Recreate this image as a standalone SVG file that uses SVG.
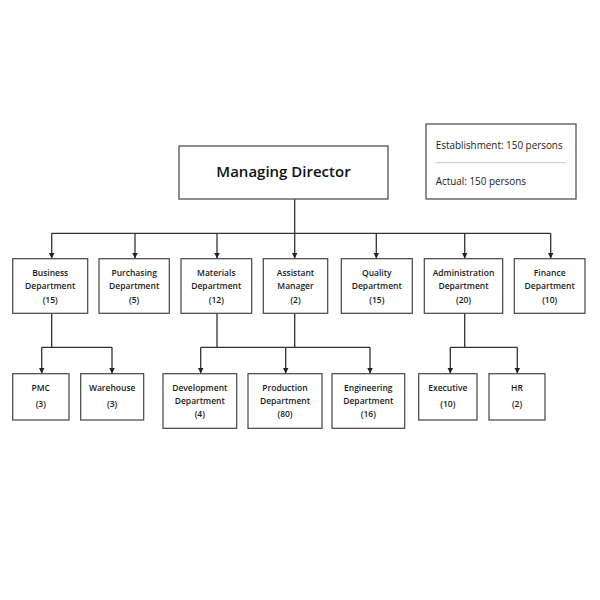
<svg xmlns="http://www.w3.org/2000/svg" width="600" height="600" viewBox="0 0 600 600">
<style>
.box{fill:#fff;stroke:#444;stroke-width:1.2}
.lbl{font-family:"Open Sans","Noto Sans",sans-serif;font-size:8.5px;font-weight:600;fill:#1a1a1a;text-anchor:middle}
.title{font-family:"Open Sans","Noto Sans",sans-serif;font-size:15px;font-weight:600;fill:#111;text-anchor:middle}
.info{font-family:"Open Sans","Noto Sans",sans-serif;font-size:9.9px;fill:#1a1a1a}
.ln{fill:none;stroke:#333;stroke-width:1.3}
.arr{marker-end:url(#ah)}
</style>
<defs>
<marker id="ah" viewBox="0 0 6 6" refX="6" refY="3" markerWidth="6" markerHeight="6" markerUnits="userSpaceOnUse" orient="auto">
<path d="M0,0 L6,3 L0,6 Z" fill="#222"/>
</marker>
</defs>
<rect width="600" height="600" fill="#fff"/>
<g id="connectors">
<path class="ln" d="M294.7,199 V233.3 M51.7,233.3 H550.7"/>
<path class="ln arr" d="M51.7,233.3 V258.5"/>
<path class="ln arr" d="M135,233.3 V258.5"/>
<path class="ln arr" d="M217,233.3 V258.5"/>
<path class="ln arr" d="M294.7,233.3 V258.5"/>
<path class="ln arr" d="M376.3,233.3 V258.5"/>
<path class="ln arr" d="M464.7,233.3 V258.5"/>
<path class="ln arr" d="M550.7,233.3 V258.5"/>
<path class="ln" d="M51.7,313.3 V347.3 M41.7,347.3 H112"/>
<path class="ln arr" d="M41.7,347.3 V373.5"/>
<path class="ln arr" d="M112,347.3 V373.5"/>
<path class="ln" d="M217,313.3 V347.3 M294.7,313.3 V347.3 M200.7,347.3 H370"/>
<path class="ln arr" d="M200.7,347.3 V373.5"/>
<path class="ln arr" d="M285.7,347.3 V373.5"/>
<path class="ln arr" d="M370,347.3 V373.5"/>
<path class="ln" d="M464.7,313.3 V347.3 M450.3,347.3 H517.3"/>
<path class="ln arr" d="M450.3,347.3 V373.5"/>
<path class="ln arr" d="M517.3,347.3 V373.5"/>
</g>
<g id="md">
<rect class="box" x="179" y="146" width="209" height="53"/>
<text class="title" x="283.5" y="177.3">Managing Director</text>
</g>
<g id="info">
<rect class="box" x="426" y="124" width="150" height="75"/>
<text class="info" x="435.7" y="149.3">Establishment: 150 persons</text>
<line x1="435.5" y1="162.7" x2="566" y2="162.7" stroke="#c8c8c8" stroke-width="1"/>
<text class="info" x="435.7" y="184.7">Actual: 150 persons</text>
</g>
<g id="business">
<rect class="box" x="12.7" y="258.7" width="75" height="54.6"/>
<text class="lbl" x="50.2" y="276">Business</text>
<text class="lbl" x="50.2" y="289">Department</text>
<text class="lbl" x="50.2" y="303">(15)</text>
</g>
<g id="purchasing">
<rect class="box" x="99" y="258.7" width="70.3" height="54.6"/>
<text class="lbl" x="134.2" y="276">Purchasing</text>
<text class="lbl" x="134.2" y="289">Department</text>
<text class="lbl" x="134.2" y="303">(5)</text>
</g>
<g id="materials">
<rect class="box" x="181" y="258.7" width="70.7" height="54.6"/>
<text class="lbl" x="216.3" y="276">Materials</text>
<text class="lbl" x="216.3" y="289">Department</text>
<text class="lbl" x="216.3" y="303">(12)</text>
</g>
<g id="assistant">
<rect class="box" x="263.3" y="258.7" width="64.4" height="54.6"/>
<text class="lbl" x="295.5" y="276">Assistant</text>
<text class="lbl" x="295.5" y="289">Manager</text>
<text class="lbl" x="295.5" y="303">(2)</text>
</g>
<g id="quality">
<rect class="box" x="341.3" y="258.7" width="71" height="54.6"/>
<text class="lbl" x="376.8" y="276">Quality</text>
<text class="lbl" x="376.8" y="289">Department</text>
<text class="lbl" x="376.8" y="303">(15)</text>
</g>
<g id="administration">
<rect class="box" x="424.3" y="258.7" width="78.4" height="54.6"/>
<text class="lbl" x="463.5" y="276">Administration</text>
<text class="lbl" x="463.5" y="289">Department</text>
<text class="lbl" x="463.5" y="303">(20)</text>
</g>
<g id="finance">
<rect class="box" x="514.3" y="258.7" width="70.7" height="54.6"/>
<text class="lbl" x="549.7" y="276">Finance</text>
<text class="lbl" x="549.7" y="289">Department</text>
<text class="lbl" x="549.7" y="303">(10)</text>
</g>
<g id="pmc">
<rect class="box" x="12.7" y="373.7" width="56.3" height="46.3"/>
<text class="lbl" x="40.8" y="391">PMC</text>
<text class="lbl" x="40.8" y="407.3">(3)</text>
</g>
<g id="warehouse">
<rect class="box" x="80.7" y="373.7" width="63" height="46.3"/>
<text class="lbl" x="112.2" y="391">Warehouse</text>
<text class="lbl" x="112.2" y="407.3">(3)</text>
</g>
<g id="development">
<rect class="box" x="163" y="373.7" width="73.7" height="54.6"/>
<text class="lbl" x="199.8" y="391">Development</text>
<text class="lbl" x="199.8" y="403.5">Department</text>
<text class="lbl" x="199.8" y="417.3">(4)</text>
</g>
<g id="production">
<rect class="box" x="248" y="373.7" width="74" height="54.6"/>
<text class="lbl" x="285" y="391">Production</text>
<text class="lbl" x="285" y="403.5">Department</text>
<text class="lbl" x="285" y="417.3">(80)</text>
</g>
<g id="engineering">
<rect class="box" x="332" y="373.7" width="72.7" height="54.6"/>
<text class="lbl" x="368.3" y="391">Engineering</text>
<text class="lbl" x="368.3" y="403.5">Department</text>
<text class="lbl" x="368.3" y="417.3">(16)</text>
</g>
<g id="executive">
<rect class="box" x="418.7" y="373.7" width="58.3" height="46.3"/>
<text class="lbl" x="447.8" y="391">Executive</text>
<text class="lbl" x="447.8" y="407.3">(10)</text>
</g>
<g id="hr">
<rect class="box" x="489" y="373.7" width="56" height="46.3"/>
<text class="lbl" x="517" y="391">HR</text>
<text class="lbl" x="517" y="407.3">(2)</text>
</g>
</svg>
